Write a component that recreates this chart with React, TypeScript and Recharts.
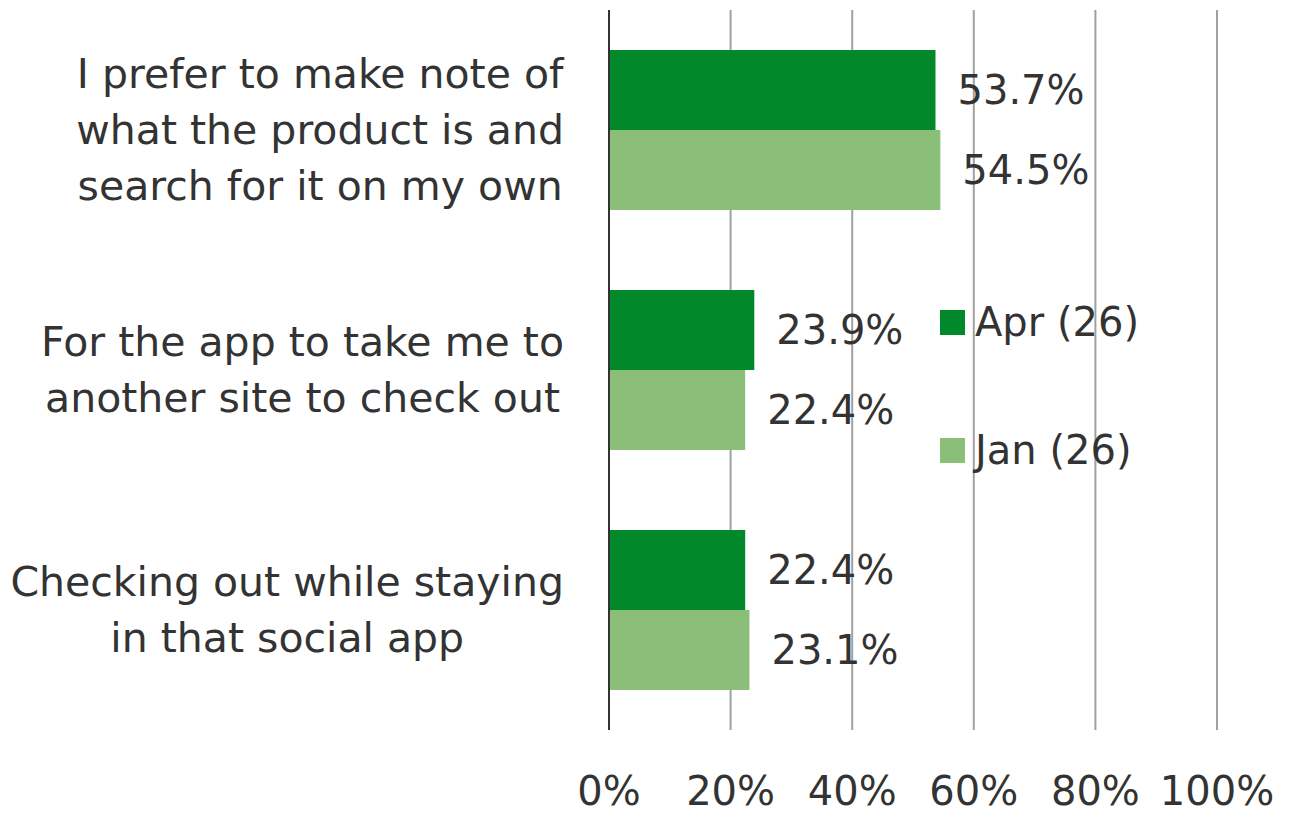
import { Bar, BarChart, CartesianGrid, LabelList, XAxis, YAxis } from "recharts";

const categories = [
  ["I prefer to make note of", "what the product is and", "search for it on my own"],
  ["For the app to take me to", "another site to check out"],
  ["Checking out while staying", "in that social app"],
];
const aprValues = [53.7, 23.9, 22.4];
const janValues = [54.5, 22.4, 23.1];
const xTicks = [0, 20, 40, 60, 80, 100];
const seriesNames = ["Apr (26)", "Jan (26)"];

const APR = "#00882B";
const JAN = "#8BBE78";
const TEXT = "#333333";
const FONT = "'DejaVu Sans', Verdana, sans-serif";

const data = categories.map((lines, i) => ({
  name: String(i),
  lines,
  Apr: aprValues[i],
  Jan: janValues[i],
}));

// widest line of a label block, so the block can be right-aligned with centred lines
let ctx: CanvasRenderingContext2D | null = null;
function blockWidth(lines: string[]) {
  if (!ctx) ctx = document.createElement("canvas").getContext("2d");
  if (!ctx) return 500;
  ctx.font = `41px ${FONT}`;
  return Math.max(...lines.map((l) => ctx!.measureText(l).width));
}

function CategoryTick({ y, payload }: any) {
  const lines = categories[Number(payload.value)];
  const lh = 56;
  const start = y - ((lines.length - 1) * lh) / 2;
  const cx = 564 - blockWidth(lines) / 2;
  return (
    <g>
      {lines.map((l, k) => (
        <text
          key={k}
          x={cx}
          y={start + k * lh}
          textAnchor="middle"
          dominantBaseline="central"
          fontSize={41}
          fill={TEXT}
          fontFamily={FONT}
        >
          {l}
        </text>
      ))}
    </g>
  );
}

function PctTick({ x, payload }: any) {
  return (
    <text x={x} y={791} textAnchor="middle" dominantBaseline="central" fontSize={40} fill={TEXT} fontFamily={FONT}>
      {`${payload.value}%`}
    </text>
  );
}

// legend sits inside the plot, to the right of the middle group
function LegendBox() {
  const colors = [APR, JAN];
  return (
    <div style={{ position: "absolute", left: 940, top: 258, fontFamily: FONT, fontSize: 40, color: TEXT }}>
      {seriesNames.map((label, i) => (
        <div key={label} style={{ display: "flex", alignItems: "center", height: 128 }}>
          <span style={{ width: 25, height: 25, background: colors[i], marginRight: 10 }} />
          <span>{label}</span>
        </div>
      ))}
    </div>
  );
}

export default function App() {
  return (
    <div style={{ position: "absolute", left: 0, top: 0, width: 1289, height: 814, background: "#fff" }}>
      <BarChart
        width={1289}
        height={814}
        data={data}
        layout="vertical"
        margin={{ top: 10, right: 72, bottom: 0, left: 0 }}
        barCategoryGap={40}
        barGap={0}
      >
        <CartesianGrid horizontal={false} stroke="#a0a0a0" strokeWidth={2} />
        <XAxis
          type="number"
          domain={[0, 100]}
          ticks={xTicks}
          axisLine={false}
          tickLine={false}
          height={84}
          tick={<PctTick />}
          interval={0}
        />
        <YAxis
          type="category"
          dataKey="name"
          width={609}
          axisLine={{ stroke: TEXT, strokeWidth: 2 }}
          tickLine={false}
          tick={<CategoryTick />}
          interval={0}
        />
        <Bar dataKey="Apr" fill={APR} isAnimationActive={false}>
          <LabelList
            dataKey="Apr"
            position="right"
            offset={22}
            fontSize={40}
            fill={TEXT}
            fontFamily={FONT}
            formatter={(v: any) => `${Number(v).toFixed(1)}%`}
          />
        </Bar>
        <Bar dataKey="Jan" fill={JAN} isAnimationActive={false}>
          <LabelList
            dataKey="Jan"
            position="right"
            offset={22}
            fontSize={40}
            fill={TEXT}
            fontFamily={FONT}
            formatter={(v: any) => `${Number(v).toFixed(1)}%`}
          />
        </Bar>
      </BarChart>
      <LegendBox />
    </div>
  );
}
